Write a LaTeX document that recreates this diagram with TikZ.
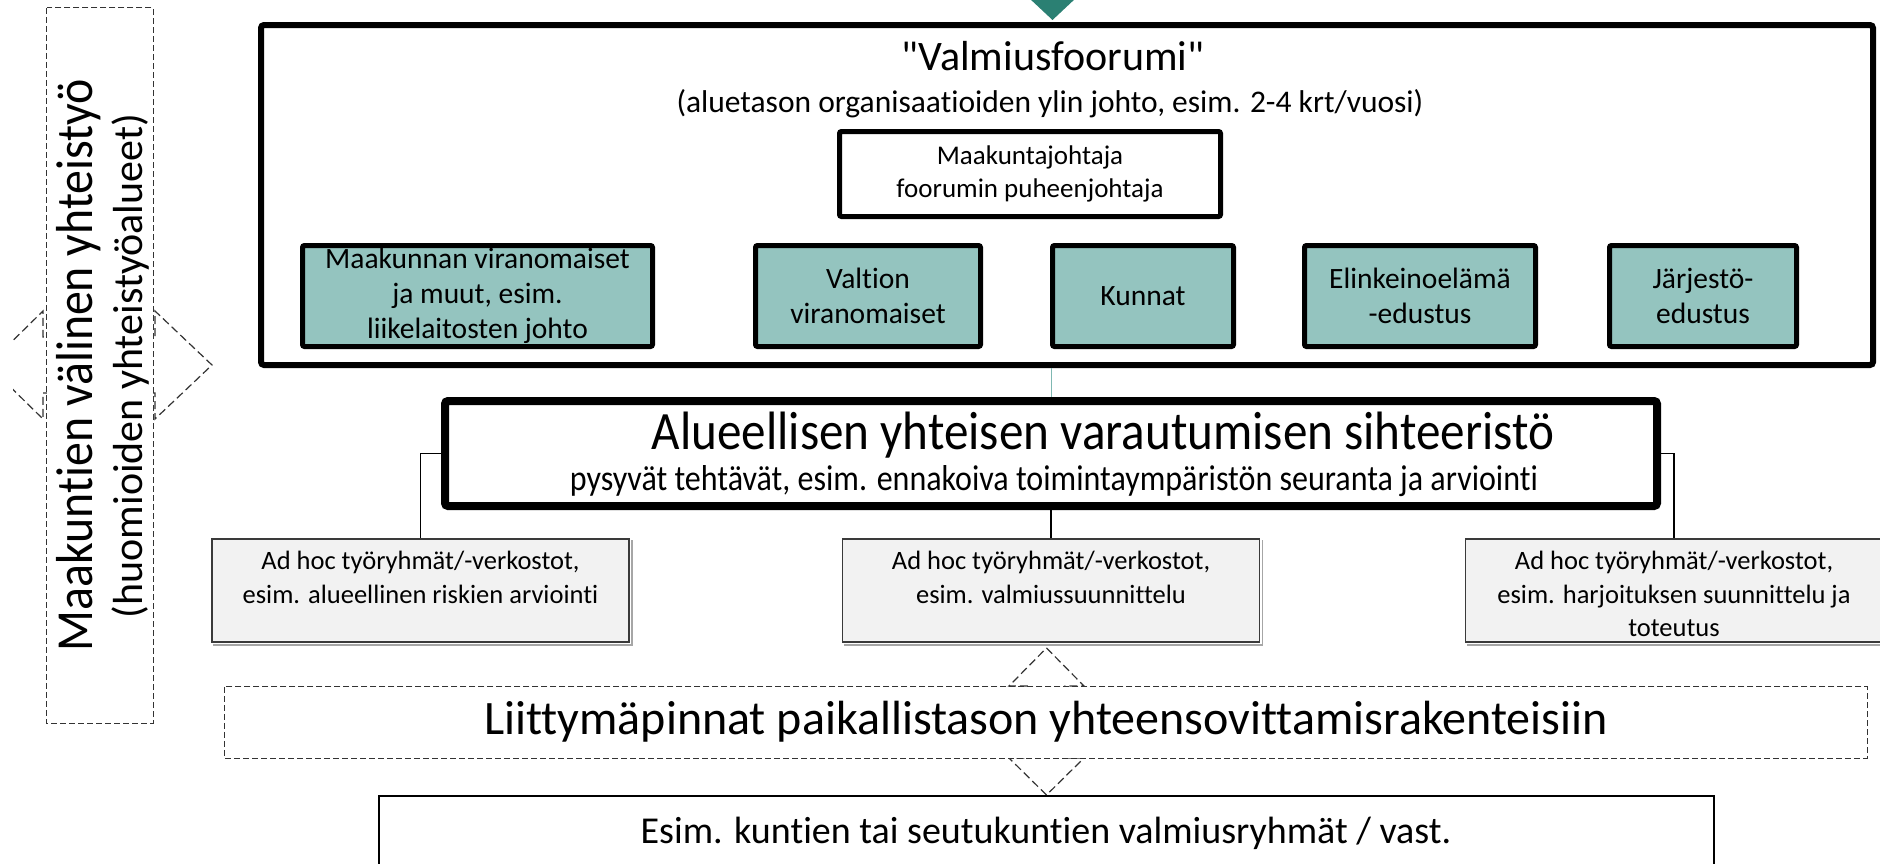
\documentclass[tikz,border=0pt]{standalone}
\usepackage{fontspec}
\setmainfont[Ligatures={TeX,NoCommon}]{Carlito}
\newfontfamily\condL[FakeStretch=0.92,Ligatures=NoCommon]{Carlito}
\newfontfamily\condB[FakeStretch=0.89,Ligatures=NoCommon]{Carlito}
\newfontfamily\condT[FakeStretch=0.91,Ligatures=NoCommon]{Carlito}
\newcommand\sq{\XeTeXglyph\XeTeXcharglyph"22\relax}
\usetikzlibrary{calc}
\definecolor{tealfill}{HTML}{94C4BF}
\definecolor{tealdark}{HTML}{2B8073}
\definecolor{tealline}{HTML}{7FB8B2}
\definecolor{adhocfill}{HTML}{F2F2F2}
\definecolor{adhocdraw}{HTML}{3A3A3A}
\begin{document}
\begin{tikzpicture}[x=1pt,y=-1pt,
  forumbox/.style={draw=black, line width=6pt, rounded corners=3pt, fill=white, inner sep=0pt},
  tealbox/.style={draw=black, line width=5pt, rounded corners=2pt, fill=tealfill, inner sep=0pt, align=center,
    minimum height=101pt, font=\fontsize{29.5}{35}\selectfont},
  chairbox/.style={draw=black, line width=5pt, rounded corners=2pt, fill=white, inner sep=0pt, align=center,
    font=\fontsize{27}{33}\selectfont},
  secrbox/.style={draw=black, line width=8pt, rounded corners=3pt, fill=white, inner sep=0pt},
  adhocbox/.style={draw=adhocdraw, line width=1.5pt, fill=adhocfill, inner sep=0pt, minimum width=417pt, minimum height=103pt},
  adhocshadow/.style={draw=black!35, line width=1.5pt},
  adhoctext/.style={anchor=north, align=center, inner sep=0pt, font=\fontsize{26.5}{33.5}\selectfont},
  conn/.style={draw=black, line width=1.5pt},
  dbox/.style={draw=black!80, line width=1.2pt, dash pattern=on 6pt off 3pt},
  darrow/.style={draw=black!80, line width=1.2pt, dash pattern=on 8pt off 4pt, fill=white},
  plain/.style={inner sep=0pt}
]
\useasboundingbox (0,0) rectangle (1880,863);
\clip (0,0) rectangle (1880,863);

% top triangle
\fill[tealdark] (1029,-2) -- (1076,-2) -- (1052.5,20) -- cycle;

% Valmiusfoorumi
\node[forumbox, minimum width=1612pt, minimum height=340pt] (forum) at (1067,195) {};
\node[plain, font=\fontsize{42}{50}\selectfont] (ftitle) at (1053,56) {\sq Valmiusfoorumi\sq};
\node[plain, font=\fontsize{31.5}{37}\selectfont] (fsub) at (1050,104) {(aluetason organisaatioiden ylin johto, esim. 2-4 krt/vuosi)};
\node[chairbox, minimum width=381pt, minimum height=85pt] (chair) at (1030,174) {Maakuntajohtaja\\foorumin puheenjohtaja};

\node[tealbox, minimum width=350pt] (t1) at (477.5,296) {Maakunnan viranomaiset\\ja muut, esim.\\liikelaitosten johto};
\node[tealbox, minimum width=225pt] (t2) at (868,296) {Valtion\\viranomaiset};
\node[tealbox, minimum width=181pt] (t3) at (1143,296) {Kunnat};
\node[tealbox, minimum width=231pt] (t4) at (1420,296) {Elinkeinoelämä\\-edustus};
\node[tealbox, minimum width=187pt] (t5) at (1703,296) {Järjestö-\\edustus};

% Sihteeristo
\node[secrbox, minimum width=1212pt, minimum height=105pt] (secr) at (1051,453.5) {};
\node[plain, font=\condT\fontsize{54}{62}\selectfont] (stitle) at (1103,435) {Alueellisen yhteisen varautumisen sihteeristö};
\node[plain, font=\condB\fontsize{36}{42}\selectfont] (ssub) at (1054,481) {pysyvät tehtävät, esim. ennakoiva toimintaympäristön seuranta ja arviointi};

\draw[tealline, line width=1pt] (secr.north) -- (secr.north |- forum.south);

% ad hoc groups
\node[adhocbox] (a1) at (420.5,590.5) {};
\node[adhocbox] (a2) at (1051,590.5) {};
\node[adhocbox] (a3) at (1674,590.5) {};
\foreach \b in {a1,a2,a3}{
  \draw[adhocshadow] ($(\b.south west)+(2,2)$) -- ($(\b.south east)+(2,2)$) -- ($(\b.north east)+(2,2)$);
}
\node[adhoctext] (a1t) at (420.5,551) {Ad hoc työryhmät/-verkostot,\\esim. alueellinen riskien arviointi};
\node[adhoctext] (a2t) at (1051,551) {Ad hoc työryhmät/-verkostot,\\esim. valmiussuunnittelu};
\node[adhoctext] (a3t) at (1674,551) {Ad hoc työryhmät/-verkostot,\\esim. harjoituksen suunnittelu ja\\toteutus};

\draw[conn] (secr.west) -| (a1.north);
\draw[conn] (secr.south) -- (a2.north);
\draw[conn] (secr.east) -| (a3.north);

% vertical dashed double arrow
\draw[darrow] (1046.5,648) -- (1084,686) -- (1065,686) -- (1065,758) -- (1084,758) -- (1046.5,795)
  -- (1009,758) -- (1028,758) -- (1028,686) -- (1009,686) -- cycle;

% Liittymapinnat
\node[fill=white, inner sep=0pt, minimum width=1642pt, minimum height=71pt] (liit) at (1046,722.5) {};
\draw[dbox] (liit.north west) rectangle (liit.south east);
\node[plain, font=\fontsize{48}{56}\selectfont] (liitt) at (1046,722) {Liittymäpinnat paikallistason yhteensovittamisrakenteisiin};

% bottom box
\node[draw=black, line width=2pt, fill=white, inner sep=0pt, minimum width=1335pt, minimum height=110pt] (bot) at (1046.5,851) {};
\node[plain, font=\fontsize{38}{45}\selectfont] (bott) at (1046,833) {Esim. kuntien tai seutukuntien valmiusryhmät / vast.};

% left horizontal dashed double arrow
\begin{scope}
\clip (13,0) rectangle (260,863);
\draw[darrow] (-12,365) -- (43,311) -- (43,337) -- (155,337) -- (155,311) -- (212,365) -- (155,419)
  -- (155,393) -- (43,393) -- (43,419) -- cycle;
\end{scope}

% left box
\node[fill=white, inner sep=0pt, minimum width=106pt, minimum height=715pt] (lbox) at (100,365.5) {};
\draw[dbox] (lbox.north west) rectangle (lbox.south east);
\node[plain, rotate=90, anchor=base, font=\condL\fontsize{52}{60}\selectfont] (lm1) at (92,365) {Maakuntien välinen yhteistyö};
\node[plain, rotate=90, anchor=base, font=\fontsize{42}{50}\selectfont] (lm2) at (142,366) {(huomioiden yhteistyöalueet)};
\end{tikzpicture}
\end{document}
